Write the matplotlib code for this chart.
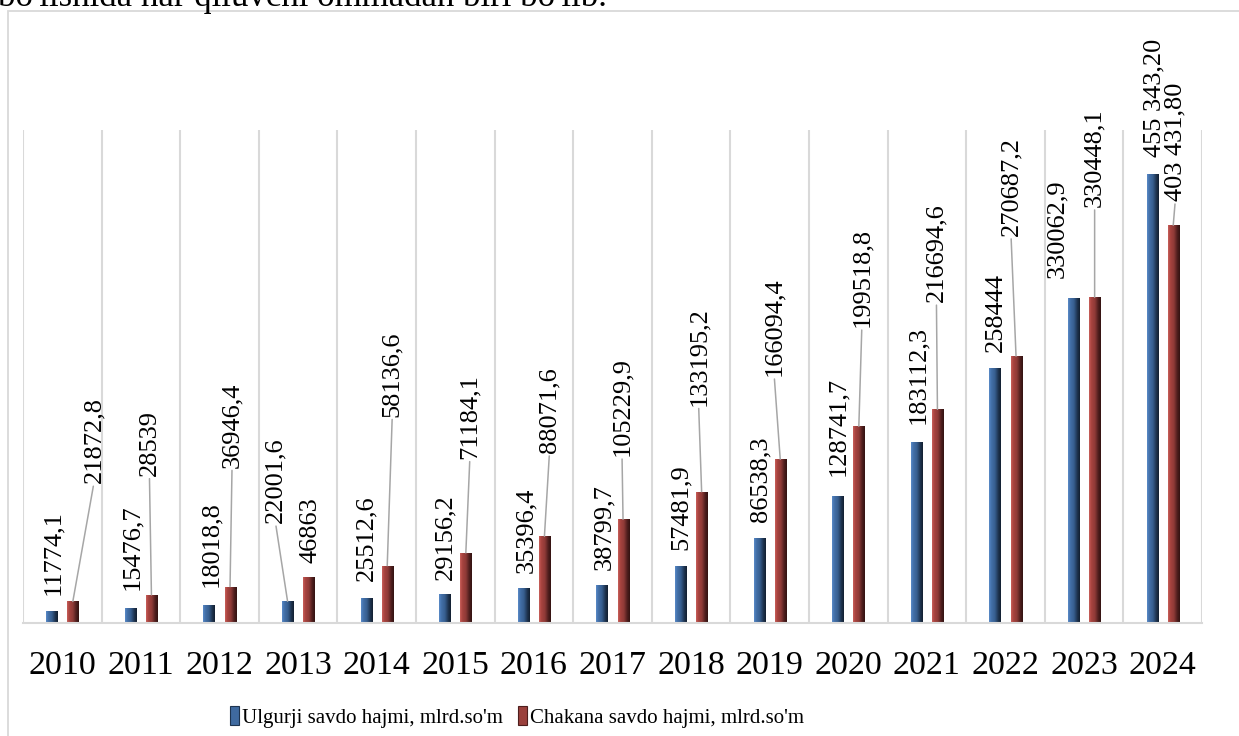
import numpy as np
import matplotlib.pyplot as plt
from matplotlib.colors import LinearSegmentedColormap
from matplotlib.patches import Rectangle, Patch

# ========================
# DATA
# ========================
years = ['2010', '2011', '2012', '2013', '2014', '2015', '2016', '2017',
         '2018', '2019', '2020', '2021', '2022', '2023', '2024']
ulgurji = [11774.1, 15476.7, 18018.8, 22001.6, 25512.6, 29156.2, 35396.4, 38799.7,
           57481.9, 86538.3, 128741.7, 183112.3, 258444, 330062.9, 455343.20]
chakana = [21872.8, 28539, 36946.4, 46863, 58136.6, 71184.1, 88071.6, 105229.9,
           133195.2, 166094.4, 199518.8, 216694.6, 270687.2, 330448.1, 403431.80]
series_names = ["Ulgurji savdo hajmi, mlrd.so'm", "Chakana savdo hajmi, mlrd.so'm"]

# label offsets from the bar top (pixels): (dx, dy)
blue_off = [(1, 16), (2, 18), (2, 18), (-12, 78), (0, 17), (1, 14), (3, 15), (2, 15),
            (0, 16), (1, 16), (0, 20), (2, 18), (1, 16), (-16, 20), (2, 17)]
red_off = [(21, 118), (-2, 119), (2, 119), (2, 14), (5, 149), (4, 94), (5, 83), (-1, 63),
           (-3, 86), (-6, 83), (3, 99), (-1, 107), (-5, 120), (0, 90), (2, 24)]


def fmt(v, last=False):
    if last:
        return f"{v:,.2f}".replace(',', ' ').replace('.', ',')
    return str(v).replace('.', ',')


plt.rcParams['font.family'] = ['Liberation Serif', 'DejaVu Serif']

W, H = 1239, 736
fig = plt.figure(figsize=(W / 100, H / 100), dpi=100)
ax = fig.add_axes([23 / W, 113 / H, 1179 / W, 493 / H])

blue_cmap = LinearSegmentedColormap.from_list('b', [
    (0, '#5A8BC8'), (0.18, '#4471AA'), (0.5, '#375E8F'), (0.78, '#1E3450'), (1, '#121F30')])
red_cmap = LinearSegmentedColormap.from_list('r', [
    (0, '#C9605C'), (0.18, '#A9443F'), (0.5, '#8E3A37'), (0.78, '#4E1E1D'), (1, '#331211')])

bw = 0.14
off = 0.134
grad = np.linspace(0, 1, 64).reshape(1, -1)


def bevel_bars(xs, vals, cmap):
    bars = ax.bar(xs, vals, width=bw, color='none', edgecolor='none', zorder=3)
    for b in bars:
        x0, y0 = b.get_x(), b.get_y()
        im = ax.imshow(grad, cmap=cmap, extent=(x0, x0 + b.get_width(), y0, y0 + b.get_height()),
                       aspect='auto', interpolation='bilinear', zorder=2)
        im.set_clip_path(b)
    return bars


x = np.arange(len(years))
bevel_bars(x - off, ulgurji, blue_cmap)
bevel_bars(x + off, chakana, red_cmap)

last = len(years) - 1
for i in range(len(years)):
    for xs, v, (dx, dy) in [(x[i] - off, ulgurji[i], blue_off[i]),
                            (x[i] + off, chakana[i], red_off[i])]:
        arrow = dict(arrowstyle='-', color='#A6A6A6', lw=1.1, shrinkA=0, shrinkB=0,
                     relpos=(0.5, 0)) if dy > 22 else None
        ax.annotate(fmt(v, i == last), xy=(xs, v), xytext=(dx, dy), textcoords='offset pixels',
                    rotation=90, ha='center', va='bottom', fontsize=19,
                    arrowprops=arrow, annotation_clip=False, zorder=4)

ax.set_xlim(-0.5, len(years) - 0.5)
ax.set_ylim(0, 500000)
ax.set_xticks(x)
ax.set_xticklabels(years, fontsize=24.5)
ax.set_xticks(np.arange(len(years) + 1) - 0.5, minor=True)
ax.tick_params(axis='x', which='both', length=0, pad=20)
ax.grid(True, axis='x', which='minor', color='#D9D9D9', lw=1.5)
ax.set_yticks([])
for s in ['top', 'left', 'right']:
    ax.spines[s].set_visible(False)
ax.spines['bottom'].set_color('#D9D9D9')
ax.spines['bottom'].set_linewidth(1.5)

handles = [Patch(facecolor='#3F6AA0', edgecolor='#1E3450', lw=0.8),
           Patch(facecolor='#9A403C', edgecolor='#4E1E1D', lw=0.8)]
fig.legend(handles, series_names, loc='center', bbox_to_anchor=(517 / W, 19 / H),
           ncol=2, frameon=False, fontsize=15, handlelength=0.45, handleheight=1.0,
           handletextpad=0.15, columnspacing=0.7)

# chart frame and the cut-off line of body text above it
fig.add_artist(Rectangle((8 / W, -0.1), 1.2, (H - 11) / H + 0.1, transform=fig.transFigure,
                         fill=False, ec='#D9D9D9', lw=1.3))
fig.text(-2 / W, (H - 6) / H, "bo'lishida har qiluvchi ommadan biri bo'lib.",
         fontsize=25, va='baseline', ha='left')

fig.savefig('out.png', dpi=100)
